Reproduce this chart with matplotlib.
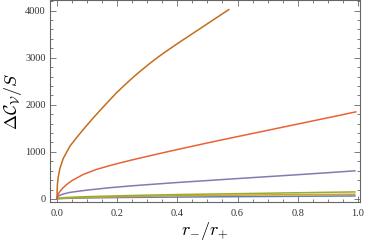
import matplotlib
matplotlib.use('Agg')
import matplotlib.pyplot as plt
from matplotlib.ticker import MultipleLocator

plt.rcParams['font.family'] = ['Liberation Serif', 'DejaVu Serif']
plt.rcParams['mathtext.fontset'] = 'cm'

# values
x_top = [0, 0.0015, 0.004, 0.01, 0.021, 0.043, 0.065, 0.0875, 0.115, 0.143,
         0.17, 0.198, 0.225, 0.2535, 0.28, 0.309, 0.336, 0.364, 0.392, 0.42,
         0.448, 0.475, 0.503, 0.531, 0.55, 0.571]
y_top = [0, 300, 450, 650, 860, 1120, 1300, 1475, 1680, 1880,
         2065, 2255, 2420, 2585, 2730, 2880, 3013, 3140, 3263, 3383,
         3501, 3615, 3734, 3852, 3933, 4021]

x_red = [0, 0.001, 0.004, 0.01, 0.02, 0.032, 0.05, 0.087, 0.13, 0.176, 0.209,
         0.25, 0.3, 0.35, 0.4, 0.45, 0.5, 0.55, 0.6, 0.674, 0.74, 0.8, 0.86,
         0.93, 0.993]
y_red = [0, 50, 100, 160, 235, 305, 390, 520, 625, 710, 765,
         830, 905, 978, 1050, 1120, 1190, 1258, 1325, 1423, 1511, 1591, 1671,
         1764, 1850]

x_pur = [0, 0.001, 0.004, 0.01, 0.025, 0.043, 0.075, 0.11, 0.176, 0.25,
         0.309, 0.4, 0.475, 0.57, 0.66, 0.75, 0.82, 0.9, 0.99]
y_pur = [0, 25, 55, 80, 112, 140, 168, 195, 240, 280,
         308, 350, 381, 421, 458, 495, 524, 558, 598]

x_low = [0, 0.001, 0.004, 0.01, 0.025, 0.05, 0.1, 0.15, 0.22, 0.309, 0.4,
         0.5, 0.6, 0.674, 0.75, 0.85, 0.92, 0.99]
y_green = [0, 6, 13, 20, 29, 38, 50, 58, 70, 83, 94,
           104, 113, 120, 128, 137, 144, 150]
y_orange = [0, 4, 8, 12, 18, 24, 33, 40, 50, 60, 68,
            75, 81, 86, 90, 95, 98, 101]
y_blue = [0, 2, 5, 8, 12, 16, 22, 27, 32, 37, 41,
          45, 49, 52, 55, 59, 62, 64]

xticks = [0.0, 0.2, 0.4, 0.6, 0.8, 1.0]
yticks = [0, 1000, 2000, 3000, 4000]

fig = plt.figure(figsize=(3.66, 2.48), dpi=100)
ax = fig.add_axes([50/366, 1 - 202/248, 310/366, 202/248 - 0.002])

lw = 1.1
ax.plot(x_low, y_blue, color='#5E81B5', lw=lw)
ax.plot(x_low, y_orange, color='#E19C24', lw=lw)
ax.plot(x_low, y_green, color='#8FB032', lw=lw)
ax.plot(x_red, y_red, color='#EB6235', lw=lw)
ax.plot(x_pur, y_pur, color='#8778B3', lw=lw)
ax.plot(x_top, y_top, color='#C56E1A', lw=lw)

ax.set_xlim(-0.023, 1.007)
ax.set_ylim(-64, 4215)
ax.set_xticks(xticks)
ax.set_xticklabels(['%.1f' % t for t in xticks])
ax.set_yticks(yticks)
ax.set_yticklabels([str(t) for t in yticks])
ax.xaxis.set_minor_locator(MultipleLocator(0.05))
ax.yaxis.set_minor_locator(MultipleLocator(200))

for s in ax.spines.values():
    s.set_color('#666666')
    s.set_linewidth(0.8)
ax.tick_params(which='both', direction='in', top=True, right=True,
               color='#666666', width=0.6)
ax.tick_params(which='major', length=4, labelsize=7.5, labelcolor='#333333', pad=3)
ax.tick_params(which='minor', length=2)
ax.tick_params(axis='x', which='major', pad=5)

ax.set_xlabel(r'$r_{-}/r_{+}$', fontsize=13)
ax.set_ylabel(r'$\Delta\mathcal{C}_{\mathcal{V}}/S$', fontsize=13)
ax.xaxis.set_label_coords(0.5, -0.09)
ax.yaxis.set_label_coords(-0.085, 0.5)

fig.savefig('out.png', dpi=100)
